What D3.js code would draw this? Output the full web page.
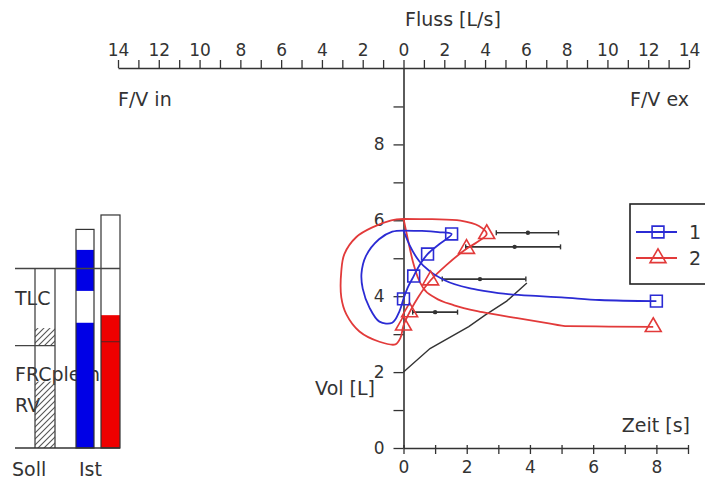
<!DOCTYPE html>
<html>
<head>
<meta charset="utf-8">
<script src="https://cdn.jsdelivr.net/npm/d3@7"></script>
<style>
  html, body { margin: 0; padding: 0; background: #fff; }
  svg text { font-family: "DejaVu Sans", Verdana, sans-serif; fill: #333; }
</style>
</head>
<body>
<svg id="chart" width="705" height="487"></svg>
<script>
// ---- axis ticks ----
const flowTicks = d3.range(-14, 15, 1);
const flowTickLabels = [14, 12, 10, 8, 6, 4, 2, 0, 2, 4, 6, 8, 10, 12, 14];
const volTicks = d3.range(0, 10, 1);
const volTickLabels = [0, 2, 4, 6, 8];
const timeTicks = d3.range(0, 10, 1);
const timeTickLabels = [0, 2, 4, 6, 8];

// ---- series ----
const seriesNames = ["1", "2"];
const seriesColors = ["#2b2bd4", "#e23a3a"];

// flow-volume loops: [flow L/s, volume L]
const fvLoop1 = [[0, 5.73], [0.9, 5.72], [1.7, 5.69], [2.36, 5.64], [1.75, 5.37], [1.18, 5.11],
  [0.8, 4.83], [0.5, 4.53], [0.2, 4.22], [0, 3.93], [-0.2, 3.6], [-0.55, 3.3], [-1.18, 3.33],
  [-1.67, 3.7], [-2.0, 4.2], [-2.06, 4.6], [-1.85, 5.05], [-1.2, 5.5], [-0.55, 5.7], [0, 5.73]];
const fvLoop2 = [[0, 6.04], [1.4, 6.03], [2.8, 5.99], [3.7, 5.85], [4.08, 5.64], [3.6, 5.42],
  [3.09, 5.25], [2.1, 4.82], [1.33, 4.42], [0.75, 4.0], [0.3, 3.58], [0, 3.23], [-0.15, 2.9],
  [-0.4, 2.73], [-1.18, 2.8], [-2.16, 3.07], [-2.8, 3.52], [-3.05, 3.97], [-3.05, 4.66],
  [-2.9, 5.11], [-2.31, 5.56], [-1.5, 5.82], [-0.6, 6.0], [0, 6.04]];
const fvMarkers1 = [[2.36, 5.64], [1.18, 5.11], [0.5, 4.53], [0, 3.93]];
const fvMarkers2 = [[4.08, 5.64], [3.09, 5.25], [1.33, 4.42], [0.3, 3.58], [0, 3.23]];

// volume-time curves: [time s, volume L]
const vtCurve1 = [[0, 5.73], [0.2, 5.33], [0.5, 4.92], [0.83, 4.66], [1.3, 4.42], [2.2, 4.19],
  [3.0, 4.08], [4.3, 4.0], [5.0, 3.97], [6.2, 3.9], [8.0, 3.87]];
const vtCurve2 = [[0, 6.04], [0.15, 5.45], [0.3, 4.9], [0.45, 4.5], [0.62, 4.22], [1.0, 3.96],
  [1.6, 3.76], [2.5, 3.58], [3.6, 3.42], [4.5, 3.3], [5.2, 3.21], [6.5, 3.2], [7.9, 3.19]];

// predicted expiratory limb and predicted flow ranges
const fvPredicted = [[0, 2.0], [1.3, 2.62], [3.2, 3.2], [4.0, 3.5], [5.06, 3.87], [6.05, 4.35]];
const refVolumes = [5.67, 5.30, 4.45, 3.58];
const refLow = [4.55, 3.05, 1.9, 0.45];
const refMid = [6.1, 5.45, 3.75, 1.55];
const refHigh = [7.6, 7.7, 6.0, 2.65];

// ---- lung volume bars (L) ----
const barCategories = ["Soll", "Ist 1", "Ist 2"];
const sollTLC = 4.73;
const sollFRC = 2.70;
const sollHatched = [[0, 1.75], [2.70, 3.16]];
const istTotals = [5.76, 6.14];
const istFilled = [[[0, 3.30], [4.14, 5.22]], [[0, 3.50]]];
const istLines = [[], [2.80]];
const volumeLabels = ["TLC", "FRCpleth", "RV"];

// ---- scales ----
const svg = d3.select("#chart");
const flowX = d3.scaleLinear().domain([-14, 14]).range([118, 689]);
const timeX = d3.scaleLinear().domain([0, 9]).range([403.5, 688]);
const volY = d3.scaleLinear().domain([0, 10]).range([448, 68.5]);
const barX = d3.scaleOrdinal().domain(barCategories).range([35, 76, 101]);
const barW = d3.scaleOrdinal().domain(barCategories).range([20, 18, 19]);

const axisColor = "#333";
const titleSize = "19px";

// ---- hatch pattern ----
const defs = svg.append("defs");
defs.append("pattern")
  .attr("id", "hatch").attr("patternUnits", "userSpaceOnUse")
  .attr("width", 6).attr("height", 6)
  .append("path")
  .attr("d", "M-1,1 l2,-2 M0,6 l6,-6 M5,7 l2,-2")
  .attr("stroke", "#555").attr("stroke-width", 1.1);

// ---- lung volume panel ----
const bars = svg.append("g");
const labelY = [305, 381, 412];
bars.selectAll("text.vl").data(volumeLabels).join("text")
  .attr("class", "vl").attr("x", 15).attr("y", (d, i) => labelY[i])
  .style("font-size", titleSize).text(d => d);

const sx = barX("Soll"), sw = barW("Soll");
bars.selectAll("rect.hatch").data(sollHatched).join("rect")
  .attr("class", "hatch")
  .attr("x", sx).attr("width", sw)
  .attr("y", d => volY(d[1])).attr("height", d => volY(d[0]) - volY(d[1]))
  .attr("fill", "url(#hatch)");
[sx, sx + sw].forEach(x => {
  bars.append("line").attr("x1", x).attr("x2", x)
    .attr("y1", volY(0)).attr("y2", volY(sollTLC))
    .attr("stroke", "#444").attr("stroke-width", 1.3);
});

istTotals.forEach((tot, i) => {
  const cat = barCategories[i + 1];
  const x = barX(cat), w = barW(cat);
  bars.append("rect").attr("x", x).attr("width", w)
    .attr("y", volY(tot)).attr("height", volY(0) - volY(tot))
    .attr("fill", "#fff");
  bars.selectAll(null).data(istFilled[i]).join("rect")
    .attr("x", x).attr("width", w)
    .attr("y", d => volY(d[1])).attr("height", d => volY(d[0]) - volY(d[1]))
    .attr("fill", i === 0 ? "#0000e6" : "#ee0000");
  bars.selectAll(null).data(istLines[i]).join("line")
    .attr("x1", x).attr("x2", x + w)
    .attr("y1", d => volY(d)).attr("y2", d => volY(d))
    .attr("stroke", "#552222").attr("stroke-width", 1);
  bars.append("rect").attr("x", x).attr("width", w)
    .attr("y", volY(tot)).attr("height", volY(0) - volY(tot))
    .attr("fill", "none").attr("stroke", "#333").attr("stroke-width", 1.2);
});

const barRight = barX("Ist 2") + barW("Ist 2");
bars.append("line").attr("x1", 15).attr("x2", barRight)
  .attr("y1", volY(sollTLC)).attr("y2", volY(sollTLC))
  .attr("stroke", "#444").attr("stroke-width", 1.3);
bars.append("line").attr("x1", 15).attr("x2", sx + sw)
  .attr("y1", volY(sollFRC)).attr("y2", volY(sollFRC))
  .attr("stroke", "#444").attr("stroke-width", 1.3);
bars.append("line").attr("x1", 15).attr("x2", barRight)
  .attr("y1", volY(0)).attr("y2", volY(0))
  .attr("stroke", "#333").attr("stroke-width", 1.5);

bars.append("text").attr("x", 12).attr("y", 476).style("font-size", titleSize).text("Soll");
bars.append("text").attr("x", 79).attr("y", 476).style("font-size", titleSize).text("Ist");

// ---- axes ----
const topAxis = svg.append("g").attr("transform", "translate(0,68)")
  .call(d3.axisTop(flowX).tickValues(flowTicks).tickSize(8).tickSizeOuter(0).tickPadding(4)
    .tickFormat(d => (d % 2 === 0 ? flowTickLabels[(d + 14) / 2] : "")));
const volAxis = svg.append("g").attr("transform", `translate(${flowX(0)},0)`)
  .call(d3.axisLeft(volY).tickValues(volTicks).tickSize(10).tickSizeOuter(0).tickPadding(9)
    .tickFormat(d => (d % 2 === 0 ? volTickLabels[d / 2] : "")));
const timeAxis = svg.append("g").attr("transform", `translate(0,${volY(0)})`)
  .call(d3.axisBottom(timeX).tickValues(timeTicks).tickSize(6).tickSizeOuter(0)
    .tickFormat(d => (d % 2 === 0 ? timeTickLabels[d / 2] : "")));
timeAxis.selectAll(".tick line").attr("y1", -3);
timeAxis.selectAll(".tick text").attr("y", 25).attr("dy", 0);

[topAxis, volAxis, timeAxis].forEach(g => {
  g.attr("font-family", null).attr("font-size", null);
  g.selectAll("path.domain").attr("stroke", axisColor).attr("stroke-width", 1.6);
  g.selectAll(".tick line").attr("stroke", axisColor).attr("stroke-width", 1.3);
  g.selectAll(".tick text").style("font-size", "17px").attr("fill", "#333");
});

// axis titles
svg.append("text").attr("x", 405).attr("y", 26).style("font-size", titleSize).text("Fluss [L/s]");
svg.append("text").attr("x", 118).attr("y", 106).style("font-size", titleSize).text("F/V in");
svg.append("text").attr("x", 689).attr("y", 106).attr("text-anchor", "end")
  .style("font-size", titleSize).text("F/V ex");
svg.append("text").attr("x", 690).attr("y", 432).attr("text-anchor", "end")
  .style("font-size", titleSize).text("Zeit [s]");
svg.append("text").attr("x", 375).attr("y", 395).attr("text-anchor", "end")
  .style("font-size", titleSize).text("Vol [L]");

// ---- predicted curve and ranges ----
const plot = svg.append("g");
const fvLine = d3.line().x(d => flowX(d[0])).y(d => volY(d[1]));
plot.append("path").attr("d", fvLine(fvPredicted))
  .attr("fill", "none").attr("stroke", "#333").attr("stroke-width", 1.4);
refVolumes.forEach((v, i) => {
  const y = volY(v);
  plot.append("line").attr("x1", flowX(refLow[i])).attr("x2", flowX(refHigh[i]))
    .attr("y1", y).attr("y2", y).attr("stroke", "#333").attr("stroke-width", 1.6);
  [refLow[i], refHigh[i]].forEach(f => {
    plot.append("line").attr("x1", flowX(f)).attr("x2", flowX(f))
      .attr("y1", y - 2.5).attr("y2", y + 2.5).attr("stroke", "#333").attr("stroke-width", 1.4);
  });
  plot.append("circle").attr("cx", flowX(refMid[i])).attr("cy", y).attr("r", 2.2).attr("fill", "#333");
});

// ---- measured curves ----
const fvCurve = d3.line().x(d => flowX(d[0])).y(d => volY(d[1])).curve(d3.curveCatmullRom.alpha(0.5));
const vtLine = d3.line().x(d => timeX(d[0])).y(d => volY(d[1])).curve(d3.curveMonotoneX);
const loops = [fvLoop1, fvLoop2];
const vts = [vtCurve1, vtCurve2];
const fvMarks = [fvMarkers1, fvMarkers2];
const symbols = [d3.symbolSquare, d3.symbolTriangle];
const symbolSizes = [140, 110];

[1, 0].forEach(i => {
  plot.append("path").attr("d", fvCurve(loops[i]))
    .attr("fill", "none").attr("stroke", seriesColors[i]).attr("stroke-width", 1.8);
  plot.append("path").attr("d", vtLine(vts[i]))
    .attr("fill", "none").attr("stroke", seriesColors[i]).attr("stroke-width", 1.8);
});
[1, 0].forEach(i => {
  const sym = d3.symbol().type(symbols[i]).size(symbolSizes[i]);
  const pts = fvMarks[i].map(d => [flowX(d[0]), volY(d[1])]);
  const last = vts[i][vts[i].length - 1];
  pts.push([timeX(last[0]), volY(last[1])]);
  plot.selectAll(null).data(pts).join("path")
    .attr("d", sym).attr("transform", d => `translate(${d[0]},${d[1]})`)
    .attr("fill", "none").attr("stroke", seriesColors[i]).attr("stroke-width", 1.6);
});

// ---- legend ----
const legend = svg.append("g");
legend.append("rect").attr("x", 630).attr("y", 204).attr("width", 90).attr("height", 80)
  .attr("fill", "#fff").attr("stroke", "#222").attr("stroke-width", 1.6);
const legendY = [232, 258];
seriesNames.forEach((name, i) => {
  const y = legendY[i];
  legend.append("line").attr("x1", 636).attr("x2", 677).attr("y1", y).attr("y2", y)
    .attr("stroke", seriesColors[i]).attr("stroke-width", 1.8);
  legend.append("path").attr("d", d3.symbol().type(symbols[i]).size(symbolSizes[i]))
    .attr("transform", `translate(658,${y})`)
    .attr("fill", "none").attr("stroke", seriesColors[i]).attr("stroke-width", 1.6);
  legend.append("text").attr("x", 689).attr("y", y).attr("dy", "0.36em")
    .style("font-size", titleSize).attr("fill", "#222").text(name);
});
</script>
</body>
</html>
